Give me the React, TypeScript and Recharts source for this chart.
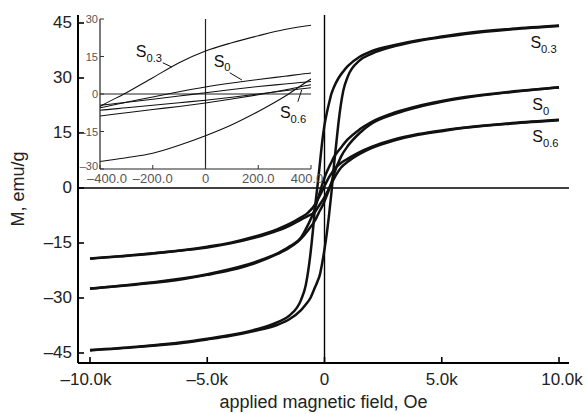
import React from 'react';
import { LineChart, Line, XAxis, YAxis, ReferenceLine, ReferenceDot, Label } from 'recharts';

type Pt = { h: number; m: number };

const FONT = '"Liberation Sans", Arial, Helvetica, sans-serif';

const xTicks = [-10000, -5000, 0, 5000, 10000];
const yTicks = [-45, -30, -15, 0, 15, 30, 45];
const insetXTicks = [-400, -200, 0, 200, 400];
const insetYTicks = [-30, -15, 0, 15, 30];

const xTitle = 'applied magnetic field, Oe';
const yTitle = 'M, emu/g';

// S0.3 — branch measured with decreasing field (upper loop half)
const s03Desc: Pt[] = [
  { h: -10000, m: -44.2 }, { h: -8000, m: -43.3 }, { h: -6000, m: -42.0 }, { h: -5000, m: -41.1 },
  { h: -4000, m: -40.1 }, { h: -3000, m: -38.7 }, { h: -2000, m: -36.6 }, { h: -1500, m: -34.8 },
  { h: -1000, m: -30.5 }, { h: -800, m: -26.5 }, { h: -600, m: -18.0 }, { h: -500, m: -12.0 },
  { h: -400, m: -5.0 }, { h: -300, m: 0.5 }, { h: -200, m: 6.5 }, { h: -100, m: 12.5 },
  { h: 0, m: 17.2 }, { h: 100, m: 20.5 }, { h: 200, m: 23.3 }, { h: 300, m: 25.8 },
  { h: 400, m: 27.5 }, { h: 600, m: 30.0 }, { h: 800, m: 31.8 }, { h: 1000, m: 33.3 },
  { h: 1500, m: 35.8 }, { h: 2000, m: 37.3 }, { h: 3000, m: 39.0 }, { h: 4000, m: 40.3 },
  { h: 5000, m: 41.3 }, { h: 6000, m: 42.2 }, { h: 8000, m: 43.4 }, { h: 10000, m: 44.3 },
];
// S0.3 — branch measured with increasing field (lower loop half)
const s03Asc: Pt[] = [
  { h: -10000, m: -44.3 }, { h: -8000, m: -43.4 }, { h: -6000, m: -42.2 }, { h: -5000, m: -41.3 },
  { h: -4000, m: -40.3 }, { h: -3000, m: -39.0 }, { h: -2000, m: -37.3 }, { h: -1500, m: -35.8 },
  { h: -1000, m: -33.3 }, { h: -800, m: -31.8 }, { h: -600, m: -30.0 }, { h: -400, m: -27.0 },
  { h: -300, m: -25.5 }, { h: -200, m: -23.7 }, { h: -100, m: -20.5 }, { h: 0, m: -16.7 },
  { h: 100, m: -12.3 }, { h: 200, m: -7.0 }, { h: 300, m: -1.0 }, { h: 400, m: 6.0 },
  { h: 500, m: 12.0 }, { h: 600, m: 18.0 }, { h: 800, m: 26.5 }, { h: 1000, m: 30.5 },
  { h: 1500, m: 34.8 }, { h: 2000, m: 36.6 }, { h: 3000, m: 38.7 }, { h: 4000, m: 40.1 },
  { h: 5000, m: 41.1 }, { h: 6000, m: 42.0 }, { h: 8000, m: 43.3 }, { h: 10000, m: 44.2 },
];
// S0
const s0Desc: Pt[] = [
  { h: -10000, m: -27.5 }, { h: -8000, m: -26.2 }, { h: -6000, m: -24.6 }, { h: -5000, m: -23.5 },
  { h: -4000, m: -22.1 }, { h: -3000, m: -20.3 }, { h: -2000, m: -17.8 }, { h: -1500, m: -16.0 },
  { h: -1000, m: -13.5 }, { h: -700, m: -10.0 }, { h: -400, m: -5.5 }, { h: -300, m: -3.3 },
  { h: -200, m: -1.2 }, { h: -100, m: 0.9 }, { h: 0, m: 2.8 }, { h: 100, m: 4.4 },
  { h: 200, m: 5.8 }, { h: 300, m: 7.1 }, { h: 400, m: 8.4 }, { h: 700, m: 11.0 },
  { h: 1000, m: 13.3 }, { h: 1500, m: 16.0 }, { h: 2000, m: 18.0 }, { h: 3000, m: 20.6 },
  { h: 4000, m: 22.4 }, { h: 5000, m: 23.7 }, { h: 6000, m: 24.8 }, { h: 8000, m: 26.3 },
  { h: 10000, m: 27.4 },
];
const s0Asc: Pt[] = [
  { h: -10000, m: -27.4 }, { h: -8000, m: -26.3 }, { h: -6000, m: -24.8 }, { h: -5000, m: -23.7 },
  { h: -4000, m: -22.4 }, { h: -3000, m: -20.6 }, { h: -2000, m: -18.0 }, { h: -1500, m: -16.3 },
  { h: -1000, m: -13.8 }, { h: -700, m: -11.5 }, { h: -400, m: -8.8 }, { h: -300, m: -7.5 },
  { h: -200, m: -6.2 }, { h: -100, m: -5.0 }, { h: 0, m: -3.6 }, { h: 100, m: -2.0 },
  { h: 200, m: -0.3 }, { h: 300, m: 1.6 }, { h: 400, m: 3.7 }, { h: 700, m: 8.5 },
  { h: 1000, m: 11.5 }, { h: 1500, m: 15.0 }, { h: 2000, m: 17.5 }, { h: 3000, m: 20.2 },
  { h: 4000, m: 22.1 }, { h: 5000, m: 23.5 }, { h: 6000, m: 24.6 }, { h: 8000, m: 26.2 },
  { h: 10000, m: 27.5 },
];
// S0.6
const s06Desc: Pt[] = [
  { h: -10000, m: -19.2 }, { h: -8000, m: -18.2 }, { h: -6000, m: -16.9 }, { h: -5000, m: -16.0 },
  { h: -4000, m: -14.9 }, { h: -3000, m: -13.3 }, { h: -2000, m: -11.2 }, { h: -1500, m: -9.8 },
  { h: -1000, m: -8.0 }, { h: -700, m: -6.7 }, { h: -400, m: -4.5 }, { h: -300, m: -3.3 },
  { h: -200, m: -2.1 }, { h: -100, m: -0.8 }, { h: 0, m: 0.5 }, { h: 100, m: 1.8 },
  { h: 200, m: 3.0 }, { h: 300, m: 4.0 }, { h: 400, m: 5.0 }, { h: 700, m: 6.8 },
  { h: 1000, m: 8.0 }, { h: 1500, m: 9.8 }, { h: 2000, m: 11.2 }, { h: 3000, m: 13.3 },
  { h: 4000, m: 14.7 }, { h: 5000, m: 15.7 }, { h: 6000, m: 16.5 }, { h: 8000, m: 17.7 },
  { h: 10000, m: 18.6 },
];
const s06Asc: Pt[] = [
  { h: -10000, m: -19.3 }, { h: -8000, m: -18.3 }, { h: -6000, m: -17.0 }, { h: -5000, m: -16.2 },
  { h: -4000, m: -15.1 }, { h: -3000, m: -13.6 }, { h: -2000, m: -11.6 }, { h: -1500, m: -10.3 },
  { h: -1000, m: -8.6 }, { h: -700, m: -7.6 }, { h: -400, m: -6.5 }, { h: -300, m: -5.5 },
  { h: -200, m: -4.5 }, { h: -100, m: -3.5 }, { h: 0, m: -2.5 }, { h: 100, m: -1.3 },
  { h: 200, m: 0.0 }, { h: 300, m: 1.3 }, { h: 400, m: 2.5 }, { h: 700, m: 5.5 },
  { h: 1000, m: 7.2 }, { h: 1500, m: 9.3 }, { h: 2000, m: 10.9 }, { h: 3000, m: 13.0 },
  { h: 4000, m: 14.5 }, { h: 5000, m: 15.5 }, { h: 6000, m: 16.4 }, { h: 8000, m: 17.6 },
  { h: 10000, m: 18.5 },
];

const allBranches: Pt[][] = [s03Desc, s03Asc, s0Desc, s0Asc, s06Desc, s06Asc];

const dash = (v: number) => (v < 0 ? '\u2013' : '');
const fmtK = (v: number) => (v === 0 ? '0' : dash(v) + (Math.abs(v) / 1000).toFixed(1) + 'k');
const fmtInt = (v: number) => dash(v) + Math.abs(v);
const fmtInsetX = (v: number) => (v === 0 ? '0' : dash(v) + Math.abs(v).toFixed(1));

const MainYTick = (p: any) => {
  const ax = p.x + 6;
  return (
    <g>
      <line x1={ax} x2={ax + 6} y1={p.y} y2={p.y} stroke="#000" strokeWidth={1.6} />
      <text x={p.x} y={p.y} textAnchor="end" dominantBaseline="central" fontSize={17} fontFamily={FONT} fill="#222">
        {fmtInt(p.payload.value)}
      </text>
    </g>
  );
};

const MainXTick = (p: any) => {
  const last = p.index === xTicks.length - 1;
  const first = p.index === 0;
  const dx = first ? -4 : last ? 3 : 0;
  return (
    <g>
      <line x1={p.x} x2={p.x} y1={p.y} y2={p.y - 6} stroke="#000" strokeWidth={1.6} />
      <text x={p.x + dx} y={p.y + 22} textAnchor="middle" fontSize={17} fontFamily={FONT} fill="#222">
        {fmtK(p.payload.value)}
      </text>
    </g>
  );
};

const InsetYTick = (p: any) => {
  const ax = p.x + 2;
  const lowest = p.index === 0;
  return (
    <g>
      <line x1={ax} x2={ax + 4} y1={p.y} y2={p.y} stroke="#333" strokeWidth={1} />
      <text x={p.x} y={p.y - (lowest ? 3 : 0)} textAnchor="end" dominantBaseline="central" fontSize={11} fontFamily={FONT} fill="#555">
        {fmtInt(p.payload.value)}
      </text>
    </g>
  );
};

const InsetXTick = (p: any) => {
  const last = p.index === insetXTicks.length - 1;
  const first = p.index === 0;
  const dx = first ? 7 : last ? -4 : 0;
  return (
    <g>
      <line x1={p.x} x2={p.x} y1={p.y} y2={p.y - 4} stroke="#333" strokeWidth={1} />
      <text x={p.x + dx} y={p.y + 14} textAnchor="middle" fontSize={13} fontFamily={FONT} fill="#555">
        {fmtInsetX(p.payload.value)}
      </text>
    </g>
  );
};

const subLabel = (main: string, sub: string, size: number) => (p: any) => (
  <text x={p.cx} y={p.cy} fontSize={size} fontFamily={FONT} fill="#111">
    {main}
    <tspan dy={size * 0.3} fontSize={size * 0.7}>{sub}</tspan>
  </text>
);

const XTitle = (p: any) => {
  const vb = p.viewBox;
  return (
    <text x={vb.x + vb.width / 2} y={vb.y + 45} textAnchor="middle" fontSize={18} fontFamily={FONT} fill="#222">
      {xTitle}
    </text>
  );
};

const YTitle = (p: any) => {
  const vb = p.viewBox;
  const cx = vb.x + 18;
  const cy = vb.y + vb.height / 2;
  return (
    <text x={cx} y={cy} transform={`rotate(-90 ${cx} ${cy})`} textAnchor="middle" dominantBaseline="central" fontSize={18} fontFamily={FONT} fill="#222">
      {yTitle}
    </text>
  );
};

export default function App() {
  return (
    <div style={{ position: 'absolute', left: 0, top: 0, width: 587, height: 414, background: '#fff' }}>
      <LineChart width={587} height={414} margin={{ top: 15, right: 18, bottom: 21, left: 0 }}>
        <XAxis
          type="number"
          dataKey="h"
          domain={[-10512, 10426]}
          allowDataOverflow
          ticks={xTicks}
          interval={0}
          height={30}
          tickSize={0}
          tickMargin={0}
          tickLine={false}
          axisLine={{ stroke: '#000', strokeWidth: 2 }}
          tick={<MainXTick />}
        >
          <Label content={<XTitle />} />
        </XAxis>
        <YAxis
          type="number"
          domain={[-47.73, 47.18]}
          allowDataOverflow
          ticks={yTicks}
          interval={0}
          width={78}
          tickSize={0}
          tickMargin={6}
          tickLine={false}
          axisLine={{ stroke: '#000', strokeWidth: 2 }}
          tick={<MainYTick />}
        >
          <Label content={<YTitle />} />
        </YAxis>
        <ReferenceLine x={0} stroke="#000" strokeWidth={1.4} />
        <ReferenceLine y={0} stroke="#000" strokeWidth={1.4} />
        {allBranches.map((d, i) => (
          <Line
            key={i}
            data={d}
            dataKey="m"
            type="monotone"
            stroke="#111"
            strokeWidth={2.5}
            dot={false}
            activeDot={false}
            isAnimationActive={false}
          />
        ))}
        <ReferenceDot x={8780} y={38.2} r={0} shape={subLabel('S', '0.3', 16)} />
        <ReferenceDot x={8860} y={21.3} r={0} shape={subLabel('S', '0', 16)} />
        <ReferenceDot x={8860} y={12.6} r={0} shape={subLabel('S', '0.6', 16)} />
      </LineChart>

      <div style={{ position: 'absolute', left: 0, top: 0 }}>
        <LineChart width={340} height={192} margin={{ top: 19, right: 29, bottom: 0, left: 70 }}>
          <XAxis
            type="number"
            dataKey="h"
            domain={[-400, 400]}
            allowDataOverflow
            ticks={insetXTicks}
            interval={0}
            height={23}
            tickSize={0}
            tickMargin={0}
            tickLine={false}
            axisLine={{ stroke: '#222', strokeWidth: 1.2 }}
            tick={<InsetXTick />}
          />
          <YAxis
            type="number"
            domain={[-30, 30]}
            allowDataOverflow
            ticks={insetYTicks}
            interval={0}
            width={30}
            tickSize={0}
            tickMargin={2}
            tickLine={false}
            axisLine={{ stroke: '#222', strokeWidth: 1.2 }}
            tick={<InsetYTick />}
          />
          <ReferenceLine x={0} stroke="#222" strokeWidth={1.2} />
          <ReferenceLine y={0} stroke="#222" strokeWidth={1.2} />
          {allBranches.map((d, i) => (
            <Line
              key={i}
              data={d}
              dataKey="m"
              type="monotone"
              stroke="#111"
              strokeWidth={1.1}
              dot={false}
              activeDot={false}
              isAnimationActive={false}
            />
          ))}
          <ReferenceLine segment={[{ x: -162, y: 12.5 }, { x: -128, y: 10.8 }]} stroke="#111" strokeWidth={1} />
          <ReferenceLine segment={[{ x: 92, y: 8.5 }, { x: 138, y: 5.6 }]} stroke="#111" strokeWidth={1} />
          <ReferenceLine segment={[{ x: 350, y: -3.1 }, { x: 365, y: 1.7 }]} stroke="#111" strokeWidth={1} />
          <ReferenceDot x={-264} y={14.8} r={0} shape={subLabel('S', '0.3', 16)} />
          <ReferenceDot x={31} y={11.0} r={0} shape={subLabel('S', '0', 16)} />
          <ReferenceDot x={282} y={-9.6} r={0} shape={subLabel('S', '0.6', 16)} />
        </LineChart>
      </div>
    </div>
  );
}
